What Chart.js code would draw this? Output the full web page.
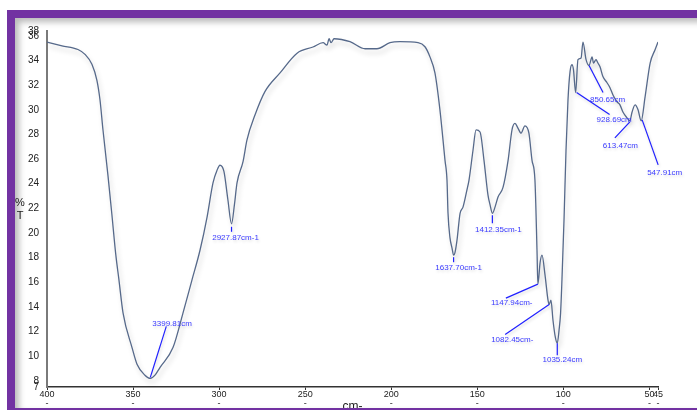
<!DOCTYPE html>
<html>
<head>
<meta charset="utf-8">
<script src="https://cdn.jsdelivr.net/npm/chart.js@4.4.1/dist/chart.umd.min.js"></script>
<style>
  html, body { margin: 0; padding: 0; background: #fff; overflow: hidden; }
  #wrap { position: relative; width: 697px; height: 410px; }
  canvas { position: absolute; left: 0; top: 0; }
  #frame {
    position: absolute; left: 7px; top: 10px; width: 740px; height: 406px;
    box-sizing: border-box; border: 8px solid #7232a2;
    box-shadow: inset 4px 4px 6px rgba(0,0,0,0.28);
    pointer-events: none;
  }
</style>
</head>
<body>
<div id="wrap">
  <canvas id="c" width="697" height="410"></canvas>
  <div id="frame"></div>
</div>
<script>
// IR spectrum: wavenumber axis in cm-1 / 10, transmittance in %T
const wavenumber = [
  400, 391.3, 382.0, 377.9, 373.9, 371.0, 369.2, 367.5, 364.6, 362.3,
  360.0, 358.2, 355.8, 350.6, 347.7, 343.1, 339.981, 337.25, 334.3, 326.8, 321.0,
  315.75, 311.1, 307.0, 303.55, 301.2, 299.5, 297.2, 294.9, 292.787, 291.1,
  289.6, 286.1, 283.8, 279.1, 273.3, 264.6, 254.7, 245.45, 239.6, 237.3,
  236.1, 235.0, 233.2, 223.95, 215.2, 208.3, 200.7, 194.9, 184.4, 180.4,
  177.5, 174.6, 171.7, 168.75, 167.6, 167.0, 165.85, 164.7, 163.77, 162.9,
  161.8, 160.0, 158.3, 156.0, 154.8, 152.5, 150.7, 148.4, 146.1, 143.8,
  142.6, 141.235, 139.7, 138.0, 135.05, 132.1, 129.8, 128.1, 126.3, 124.6,
  122.3, 120.0, 118.2, 116.5, 115.3, 114.794, 113.5, 112.4, 110.65, 108.9,
  108.245, 107.2, 106.0, 104.6, 103.524, 102.5, 101.6, 100.8, 99.6, 98.45,
  97.3, 96.1, 95.0, 94.1, 92.869, 91.5, 89.7, 88.6, 86.8, 85.065,
  83.3, 82.5, 81.0, 79.9, 78.7, 77.0, 74.6, 72.9, 71.15, 68.8,
  67.1, 65.3, 63.0, 61.347, 60.1, 58.3, 56.6, 54.791, 52.5, 49.56,
  46.65, 45.0
];
const transmittance = [
  35.5, 35.2, 34.9, 34.5, 33.7, 32.4, 30.8, 28.4, 24.7, 21.5,
  18.2, 16.2, 13.5, 10.7, 9.35, 8.46, 8.2, 8.46, 9.1, 10.7, 13.5,
  16.2, 18.6, 21.3, 24.07, 25.1, 25.5, 25.0, 22.7, 20.75, 22.3,
  24.07, 25.8, 27.56, 29.6, 31.5, 33.0, 34.6, 35.1, 35.45, 35.25,
  35.77, 35.45, 35.77, 35.53, 34.96, 34.96, 35.45, 35.53, 35.45, 35.12,
  34.3, 33.0, 30.0, 25.9, 24.3, 21.6, 19.6, 18.8, 18.2, 18.45,
  19.4, 21.6, 22.1, 23.5, 24.3, 26.7, 28.37, 28.2, 25.9, 23.1,
  22.3, 21.6, 22.1, 22.9, 23.7, 25.9, 28.4, 28.9, 28.5, 28.1,
  28.7, 28.1, 25.9, 24.3, 18.6, 15.85, 17.6, 18.2, 16.6, 14.55,
  14.2, 14.55, 12.9, 11.5, 11.06, 12.1, 13.5, 16.2, 21.1, 26.7,
  30.8, 33.1, 33.66, 33.25, 31.4, 34.07, 34.2, 35.5, 34.07, 33.6,
  34.3, 33.8, 34.07, 33.8, 33.5, 32.7, 32.2, 31.8, 31.2, 30.65,
  30.4, 29.8, 29.35, 29.1, 29.8, 30.4, 30.0, 29.1, 31.05, 33.8,
  34.9, 35.5
];

// Axis ticks
const xTickValues = [400, 350, 300, 250, 200, 150, 100, 50, 45];
const xTickLabels = ['400', '350', '300', '250', '200', '150', '100', '50', '45'];
const yTickValues = [7.5, 8, 10, 12, 14, 16, 18, 20, 22, 24, 26, 28, 30, 32, 34, 36, 36.4];
const yTickLabels = ['7', '8', '10', '12', '14', '16', '18', '20', '22', '24', '26', '28', '30', '32', '34', '36', '38'];

// Marked bands
const peakPositions = [339.981, 292.787, 163.77, 141.235, 114.794, 108.245, 103.524, 85.065, 92.869, 61.347, 54.791];
const peakLabels = ['3399.81cm', '2927.87cm-1', '1637.70cm-1', '1412.35cm-1', '1147.94cm-', '1082.45cm-',
                    '1035.24cm', '850.65cm', '928.69cm', '613.47cm', '547.91cm'];

// Leader line and text offsets (px) relative to each marked band
const calloutLayout = [
  { line: [0, -1, 16, -52], text: [2, -55], align: 'left' },
  { line: [0, 3, 0, 8], text: [4, 14], align: 'center' },
  { line: [0, 2, 0, 7], text: [5, 13], align: 'center' },
  { line: [0, 2, 0, 10], text: [6, 16], align: 'center' },
  { line: [0, 0, -32, 14], text: [-47, 19], align: 'left' },
  { line: [0, 0, -44, 30], text: [-58, 35], align: 'left' },
  { line: [0, 0, 0, 12], text: [5, 17], align: 'center' },
  { line: [0, 0, 14, 27], text: [1, 34], align: 'left' },
  { line: [1, 0, 34, 22], text: [21, 27], align: 'left' },
  { line: [0, 1, -15, 17], text: [-27, 25], align: 'left' },
  { line: [1, -1, 17, 44], text: [6, 52], align: 'left' }
];

const FONT = '"Liberation Sans", Arial, sans-serif';

const spectrumDecor = {
  id: 'spectrumDecor',
  beforeDatasetsDraw(chart) {
    const ctx = chart.ctx;
    ctx.save();
    ctx.shadowColor = 'rgba(0,0,0,0.2)';
    ctx.shadowBlur = 5;
    ctx.shadowOffsetX = 2;
    ctx.shadowOffsetY = 4;
  },
  afterDatasetsDraw(chart) {
    const { ctx, scales: { x, y } } = chart;
    ctx.restore();
    ctx.save();
    ctx.shadowColor = 'rgba(0,0,0,0.15)';
    ctx.shadowBlur = 3;
    ctx.shadowOffsetX = 1;
    ctx.shadowOffsetY = 2;
    ctx.font = '8px ' + FONT;
    ctx.textBaseline = 'middle';
    peakPositions.forEach((wn, i) => {
      const idx = wavenumber.indexOf(wn);
      const px = x.getPixelForValue(wn);
      const py = y.getPixelForValue(transmittance[idx]);
      const L = calloutLayout[i];
      ctx.strokeStyle = '#1f1fff';
      ctx.lineWidth = 1.2;
      ctx.beginPath();
      ctx.moveTo(px + L.line[0], py + L.line[1]);
      ctx.lineTo(px + L.line[2], py + L.line[3]);
      ctx.stroke();
      ctx.fillStyle = '#3a3aff';
      ctx.textAlign = L.align;
      ctx.fillText(peakLabels[i], px + L.text[0], py + L.text[1]);
    });
    ctx.restore();
  },
  afterDraw(chart) {
    const ctx = chart.ctx;
    ctx.save();
    ctx.fillStyle = '#222';
    ctx.textAlign = 'center';
    ctx.textBaseline = 'middle';
    ctx.font = '11px ' + FONT;
    ctx.fillText('%', 20, 203);
    ctx.fillText('T', 20, 216);
    ctx.font = '12px ' + FONT;
    ctx.fillText('cm-', (chart.chartArea.left + chart.chartArea.right) / 2, 407);
    ctx.restore();
  }
};

new Chart(document.getElementById('c'), {
  type: 'line',
  data: {
    datasets: [{
      data: wavenumber.map((w, i) => ({ x: w, y: transmittance[i] })),
      borderColor: '#56698a',
      borderWidth: 1.3,
      pointRadius: 0,
      cubicInterpolationMode: 'monotone',
      fill: false
    }]
  },
  options: {
    responsive: false,
    animation: false,
    devicePixelRatio: 1,
    layout: { padding: { left: 0, right: 39, top: 31, bottom: 0 } },
    plugins: { legend: { display: false }, tooltip: { enabled: false } },
    scales: {
      x: {
        type: 'linear',
        reverse: true,
        min: 45,
        max: 400,
        afterBuildTicks(s) { s.ticks = xTickValues.map(v => ({ value: v })); },
        afterFit(s) { s.height = 23; },
        ticks: {
          autoSkip: false, maxRotation: 0, padding: 0, color: '#222',
          font: { size: 9, family: FONT, lineHeight: 1.0 },
          callback: (v, i) => [xTickLabels[i], '-']
        },
        grid: { display: true, drawOnChartArea: false, tickLength: 3, color: '#333' },
        border: { display: true, color: '#333', width: 1.5 }
      },
      y: {
        min: 7.5,
        max: 36.4,
        afterBuildTicks(s) { s.ticks = yTickValues.map(v => ({ value: v })); },
        afterFit(s) { s.width = 47; },
        ticks: {
          autoSkip: false, padding: 0, color: '#222',
          font: { size: 10, family: FONT },
          callback: (v, i) => yTickLabels[i]
        },
        grid: { display: false },
        border: { display: true, color: '#7a7a7a', width: 2 }
      }
    }
  },
  plugins: [spectrumDecor]
});
</script>
</body>
</html>
